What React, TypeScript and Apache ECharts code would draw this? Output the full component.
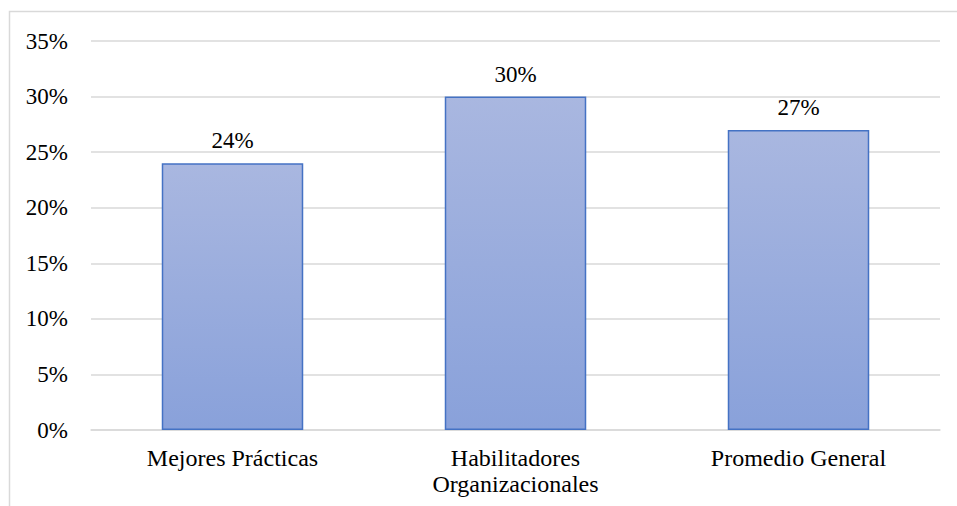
import React, { useEffect, useRef } from "react";
import * as echarts from "echarts";

const categories = ["Mejores Prácticas", "Habilitadores\nOrganizacionales", "Promedio General"];
const values = [24, 30, 27];
const yTicks = { min: 0, max: 35, interval: 5 };

export default function App() {
  const ref = useRef<HTMLDivElement>(null);
  useEffect(() => {
    if (!ref.current) return;
    const chart = echarts.init(ref.current, null, { renderer: "svg" });
    const font = "Liberation Serif";
    chart.setOption({
      animation: false,
      backgroundColor: "#ffffff",
      textStyle: { fontFamily: font },
      graphic: [
        {
          type: "rect",
          shape: { x: 9.5, y: 11.5, width: 1000, height: 600 },
          style: { fill: "none", stroke: "#d9d9d9", lineWidth: 1.5 },
          silent: true,
          z: -1,
        },
      ],
      grid: { left: 91, right: 17, top: 41, bottom: 76, containLabel: false },
      xAxis: {
        type: "category",
        data: categories,
        axisLine: { show: true, lineStyle: { color: "#d9d9d9", width: 1.5 } },
        axisTick: { show: false },
        axisLabel: {
          color: "#000000",
          fontSize: 24,
          fontFamily: font,
          margin: 15,
          lineHeight: 26,
          interval: 0,
        },
      },
      yAxis: {
        type: "value",
        min: yTicks.min,
        max: yTicks.max,
        interval: yTicks.interval,
        axisLine: { show: false },
        axisTick: { show: false },
        splitLine: { lineStyle: { color: "#d9d9d9", width: 1.5 } },
        axisLabel: {
          color: "#000000",
          fontSize: 23,
          fontFamily: font,
          margin: 23,
          formatter: "{value}%",
        },
      },
      series: [
        {
          type: "bar",
          data: values,
          barWidth: "50%",
          itemStyle: {
            color: new echarts.graphic.LinearGradient(0, 0, 0, 1, [
              { offset: 0, color: "#a9b7e0" },
              { offset: 1, color: "#89a1da" },
            ]),
            borderColor: "#4472c4",
            borderWidth: 1.5,
          },
          label: {
            show: true,
            position: "top",
            distance: 11,
            color: "#000000",
            fontSize: 23,
            fontFamily: font,
            formatter: "{c}%",
          },
        },
      ],
    });
    return () => chart.dispose();
  }, []);
  return (
    <div
      ref={ref}
      style={{ position: "fixed", left: 0, top: 0, width: 957, height: 506, background: "#fff" }}
    />
  );
}
